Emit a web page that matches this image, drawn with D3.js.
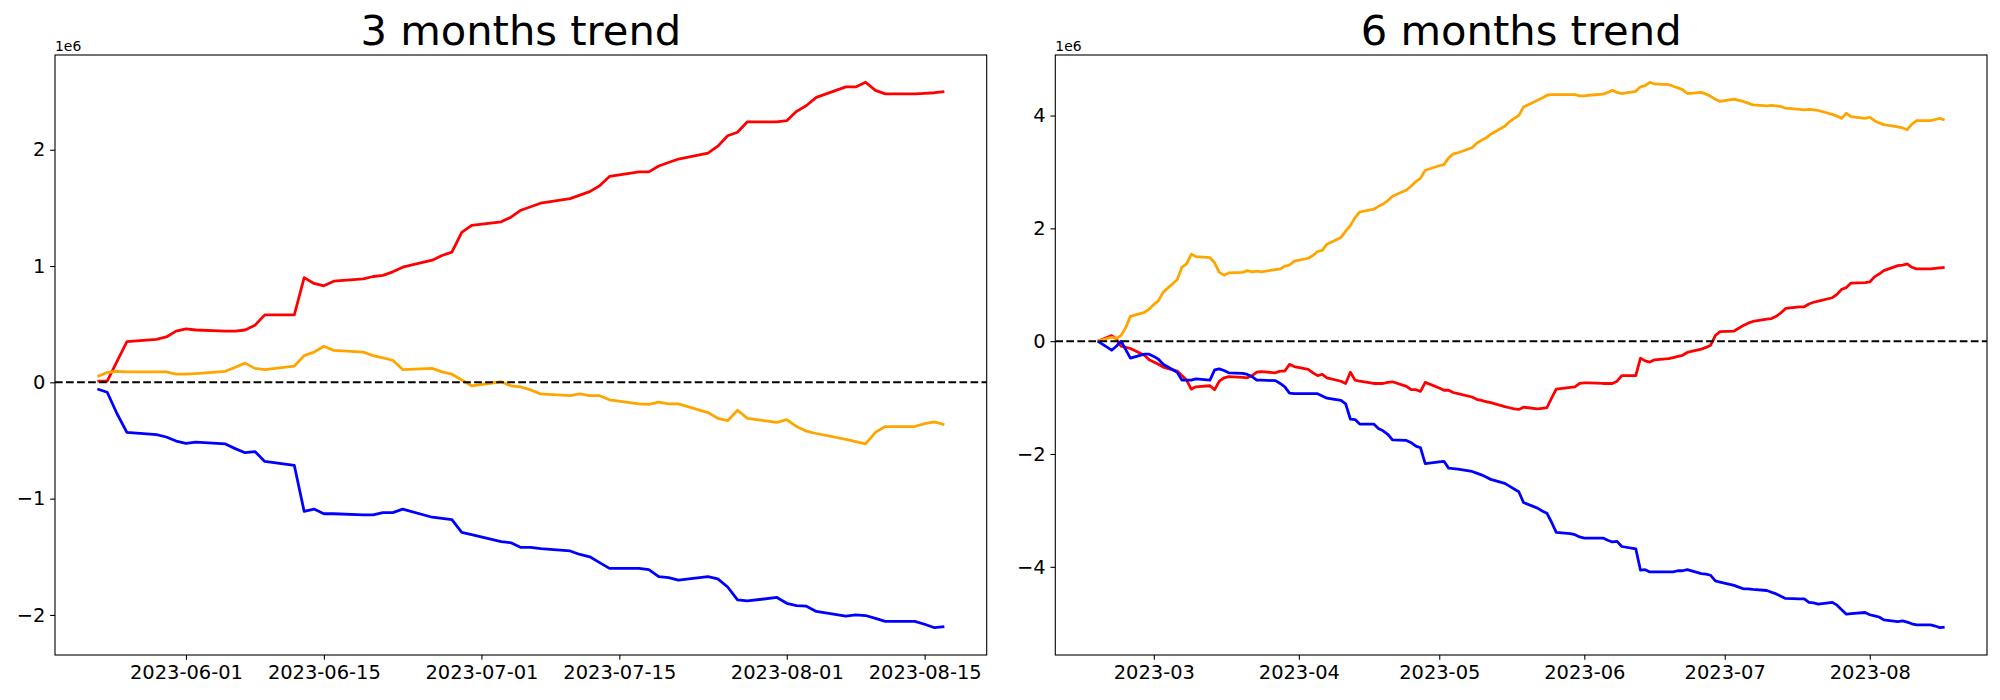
<!DOCTYPE html>
<html>
<head>
<meta charset="utf-8">
<script src="https://cdn.jsdelivr.net/npm/d3@7"></script>
<style>
  body { margin: 0; background: #fff; }
  svg text { font-family: "DejaVu Sans", sans-serif; fill: #000; }
</style>
</head>
<body>
<div id="container"></div>
<script>
const width = 2000;
const height = 700;

// business days shown in each panel
const days3m = ["2023-05-23", "2023-08-17"];
const days6m = ["2023-02-17", "2023-08-17"];

// values in units of 1e6
const red3m = [0.01, 0.01, 0.18, 0.35, 0.37, 0.39, 0.44,
  0.46, 0.45, 0.44, 0.44, 0.45, 0.49, 0.58, 0.58, 0.90, 0.85, 0.83, 0.87, 0.89, 0.91, 0.92, 0.95, 0.99, 1.05, 1.09, 1.12, 1.29, 1.35,
  1.38, 1.42, 1.48, 1.51, 1.54, 1.58, 1.61, 1.64, 1.69, 1.77, 1.81, 1.81, 1.86, 1.89, 1.92, 1.97, 2.03, 2.12, 2.15, 2.24, 2.24,
  2.25, 2.33, 2.38, 2.45, 2.54, 2.54, 2.58, 2.51, 2.48, 2.48, 2.485, 2.49, 2.50];
const orange3m = [0.05, 0.085, 0.095, 0.09, 0.09, 0.09, 0.07,
  0.07, 0.075, 0.095, 0.13, 0.165, 0.12, 0.11, 0.14, 0.23, 0.26, 0.31, 0.275, 0.26, 0.23, 0.21, 0.19, 0.11, 0.12, 0.09, 0.07, 0.02, -0.03,
  0.005, -0.03, -0.04, -0.065, -0.10, -0.115, -0.10, -0.115, -0.115, -0.15, -0.185, -0.19, -0.17, -0.185, -0.185, -0.26, -0.31, -0.33, -0.24, -0.31, -0.345,
  -0.32, -0.38, -0.42, -0.44, -0.49, -0.51, -0.53, -0.43, -0.38, -0.38, -0.355, -0.34, -0.365];
const blue3m = [-0.057, -0.085, -0.27, -0.43, -0.45, -0.47, -0.505,
  -0.525, -0.515, -0.53, -0.57, -0.605, -0.595, -0.68, -0.715, -1.11, -1.09, -1.13, -1.13, -1.14, -1.14, -1.12, -1.12, -1.09, -1.16, -1.17, -1.18, -1.29, -1.31,
  -1.37, -1.38, -1.42, -1.42, -1.43, -1.45, -1.48, -1.50, -1.55, -1.60, -1.60, -1.61, -1.67, -1.68, -1.70, -1.67, -1.69, -1.76, -1.87, -1.88, -1.85,
  -1.90, -1.92, -1.925, -1.97, -2.01, -2.00, -2.005, -2.03, -2.055, -2.055, -2.08, -2.11, -2.10];

const orange6m = [0.0, 0.07, 0.05, 0.10, 0.24, 0.44, 0.51, 0.57,
  0.65, 0.72, 0.87, 1.09, 1.31, 1.37, 1.54, 1.50, 1.48, 1.39, 1.22, 1.17, 1.21, 1.22, 1.25, 1.23, 1.24, 1.23, 1.27, 1.28, 1.33, 1.35, 1.42,
  1.47, 1.52, 1.59, 1.61, 1.72, 1.84, 1.95, 2.05, 2.19, 2.29, 2.34, 2.39, 2.43, 2.49, 2.57, 2.68, 2.75, 2.83, 2.89, 3.03,
  3.11, 3.13, 3.25, 3.32, 3.34, 3.43, 3.51, 3.56, 3.60, 3.67, 3.81, 3.89, 3.95, 4.00, 4.15, 4.27, 4.31, 4.36, 4.37, 4.37, 4.37, 4.37, 4.35,
  4.35, 4.36, 4.38, 4.41, 4.45, 4.41, 4.39, 4.43, 4.51, 4.53, 4.59, 4.56, 4.55, 4.52, 4.49, 4.46, 4.39, 4.41, 4.38, 4.34, 4.29, 4.25,
  4.29, 4.27, 4.25, 4.22, 4.19, 4.17, 4.18, 4.17, 4.16, 4.13, 4.11, 4.10, 4.11, 4.10, 4.09, 4.02, 3.99, 3.95, 4.04, 3.98, 3.95,
  3.97, 3.91, 3.87, 3.84, 3.80, 3.78, 3.75, 3.85, 3.91, 3.91, 3.93, 3.95, 3.92];
const red6m = [0.0, 0.10, 0.04, -0.09, -0.11, -0.13, -0.25, -0.33,
  -0.37, -0.41, -0.46, -0.53, -0.61, -0.69, -0.85, -0.81, -0.79, -0.86, -0.71, -0.65, -0.63, -0.64, -0.65, -0.61, -0.55, -0.54, -0.56, -0.53, -0.53, -0.41, -0.45,
  -0.50, -0.56, -0.61, -0.59, -0.65, -0.71, -0.75, -0.55, -0.69, -0.71, -0.75, -0.75, -0.75, -0.73, -0.72, -0.80, -0.86, -0.86, -0.89, -0.73,
  -0.83, -0.87, -0.87, -0.91, -0.93, -0.99, -1.03, -1.05, -1.07, -1.09, -1.16, -1.18, -1.20, -1.21, -1.17, -1.20, -1.19, -1.18, -1.01, -0.85, -0.82, -0.81, -0.75,
  -0.74, -0.74, -0.75, -0.75, -0.75, -0.71, -0.61, -0.61, -0.30, -0.35, -0.37, -0.33, -0.31, -0.29, -0.27, -0.25, -0.20, -0.14, -0.11, -0.07, 0.10, 0.17,
  0.18, 0.23, 0.28, 0.32, 0.35, 0.39, 0.40, 0.44, 0.50, 0.58, 0.61, 0.61, 0.66, 0.69, 0.71, 0.77, 0.83, 0.92, 0.95, 1.03, 1.04,
  1.05, 1.14, 1.19, 1.25, 1.34, 1.35, 1.37, 1.31, 1.28, 1.28, 1.29, 1.30, 1.31];
const blue6m = [0.0, -0.16, -0.09, 0.0, -0.15, -0.30, -0.23, -0.23,
  -0.27, -0.32, -0.41, -0.55, -0.69, -0.69, -0.69, -0.67, -0.69, -0.51, -0.49, -0.52, -0.56, -0.57, -0.59, -0.63, -0.69, -0.69, -0.70, -0.75, -0.81, -0.92, -0.93,
  -0.93, -0.93, -0.93, -0.97, -1.01, -1.05, -1.11, -1.38, -1.39, -1.47, -1.47, -1.55, -1.59, -1.65, -1.75, -1.76, -1.80, -1.86, -1.89, -2.17,
  -2.14, -2.13, -2.25, -2.26, -2.27, -2.31, -2.34, -2.37, -2.41, -2.45, -2.52, -2.57, -2.62, -2.67, -2.86, -2.96, -3.01, -3.05, -3.21, -3.39, -3.41, -3.43, -3.47,
  -3.49, -3.49, -3.49, -3.53, -3.56, -3.55, -3.64, -3.68, -4.06, -4.05, -4.09, -4.09, -4.09, -4.09, -4.07, -4.07, -4.05, -4.12, -4.13, -4.15, -4.25, -4.27,
  -4.33, -4.36, -4.39, -4.39, -4.40, -4.42, -4.45, -4.48, -4.52, -4.56, -4.57, -4.57, -4.63, -4.64, -4.66, -4.63, -4.68, -4.76, -4.84, -4.83, -4.81,
  -4.85, -4.87, -4.89, -4.94, -4.97, -4.96, -4.98, -5.01, -5.03, -5.03, -5.05, -5.08, -5.07];

// tick labels
const xTicks3m = ["2023-06-01", "2023-06-15", "2023-07-01", "2023-07-15", "2023-08-01", "2023-08-15"];
const xTicks6m = ["2023-03-01", "2023-04-01", "2023-05-01", "2023-06-01", "2023-07-01", "2023-08-01"];
const yTicks3m = [-2, -1, 0, 1, 2];
const yTicks6m = [-4, -2, 0, 2, 4];

const parse = d3.utcParse("%Y-%m-%d");
// weekdays between two dates, inclusive
const businessDays = range => d3.utcDays(parse(range[0]), d3.utcDay.offset(parse(range[1]), 1))
  .filter(d => d.getUTCDay() !== 0 && d.getUTCDay() !== 6);

const svg = d3.select("div#container").append("svg")
  .attr("width", width)
  .attr("height", height);

const tickLen = 4.86;
const fontTick = 19.44;

function padded(extent) {
  const pad = (extent[1] - extent[0]) * 0.05;
  return [extent[0] - pad, extent[1] + pad];
}

function drawPanel(o) {
  const w = 931.7, h = 600;
  const g = svg.append("g").attr("transform", "translate(" + o.left + ",55)");
  const dates = businessDays(o.days);

  const slices = o.series.map(s => ({
    color: s.color,
    values: dates.map((d, i) => ({ date: d, measurement: s.values[i] }))
  }));

  const xScale = d3.scaleUtc()
    .domain(padded(d3.extent(dates, d => +d)).map(t => new Date(t)))
    .range([0, w]);
  const yScale = d3.scaleLinear()
    .domain(padded(d3.extent(o.series.flatMap(s => s.values))))
    .range([h, 0]);

  //-----------------------------AXES-----------------------------//
  const xaxis = d3.axisBottom(xScale)
    .tickValues(o.xTicks.map(parse))
    .tickFormat(d3.utcFormat(o.xFormat))
    .tickSize(tickLen)
    .tickPadding(5.8);
  const yaxis = d3.axisLeft(yScale)
    .tickValues(o.yTicks)
    .tickFormat(d3.format("d"))
    .tickSize(tickLen)
    .tickPadding(tickLen);

  const gx = g.append("g").attr("transform", "translate(0," + h + ")").call(xaxis);
  const gy = g.append("g").call(yaxis);
  [gx, gy].forEach(a => {
    a.select(".domain").remove();
    a.selectAll(".tick line").attr("stroke", "#000").attr("stroke-width", 1.1);
    a.selectAll(".tick text")
      .style("font-family", "'DejaVu Sans', sans-serif")
      .style("font-size", fontTick + "px")
      .attr("fill", "#000");
  });

  //----------------------------LINES-----------------------------//
  const line = d3.line()
    .x(d => xScale(d.date))
    .y(d => yScale(d.measurement));

  g.selectAll(".serie")
    .data(slices)
    .enter()
    .append("path")
    .attr("class", "serie")
    .attr("fill", "none")
    .attr("stroke", d => d.color)
    .attr("stroke-width", 2.78)
    .attr("stroke-linejoin", "round")
    .attr("d", d => line(d.values));

  // zero line
  g.append("line")
    .attr("x1", 0).attr("x2", w)
    .attr("y1", yScale(0)).attr("y2", yScale(0))
    .attr("stroke", "#000")
    .attr("stroke-width", 2.08)
    .attr("stroke-dasharray", "7.7,3.33");

  // frame
  g.append("rect")
    .attr("width", w).attr("height", h)
    .attr("fill", "none")
    .attr("stroke", "#000")
    .attr("stroke-width", 1.1);

  g.append("text")
    .attr("x", 0).attr("y", -4)
    .style("font-size", "13.9px")
    .text("1e6");

  g.append("text")
    .attr("x", w / 2).attr("y", -10)
    .attr("text-anchor", "middle")
    .style("font-size", "41.67px")
    .text(o.title);
}

drawPanel({
  left: 55,
  title: "3 months trend",
  days: days3m,
  series: [
    { color: "red", values: red3m },
    { color: "orange", values: orange3m },
    { color: "blue", values: blue3m }
  ],
  xTicks: xTicks3m,
  xFormat: "%Y-%m-%d",
  yTicks: yTicks3m
});

drawPanel({
  left: 1055.3,
  title: "6 months trend",
  days: days6m,
  series: [
    { color: "red", values: red6m },
    { color: "orange", values: orange6m },
    { color: "blue", values: blue6m }
  ],
  xTicks: xTicks6m,
  xFormat: "%Y-%m",
  yTicks: yTicks6m
});
</script>
</body>
</html>
